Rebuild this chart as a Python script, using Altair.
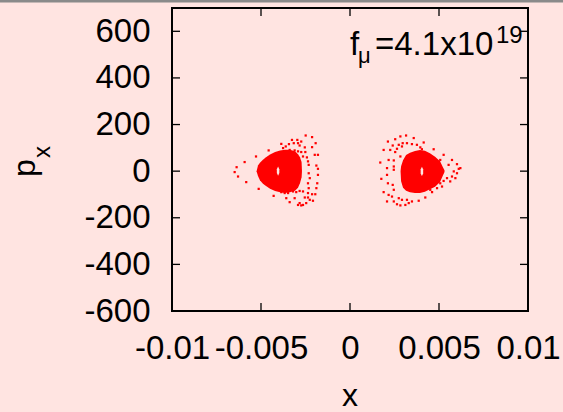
import altair as alt
import pandas as pd

# ---- data ----
x_ticks = [-0.01, -0.005, 0, 0.005, 0.01]
y_ticks = [-600, -400, -200, 0, 200, 400, 600]
x_inner_ticks = [-0.005, 0, 0.005]
y_inner_ticks = [-400, -200, 0, 200, 400, 600]

# dense cores (upper / lower outline)
left_blob_x = [-0.00525, -0.00517, -0.00506, -0.00489, -0.00472, -0.00449, -0.00421, -0.00393,
               -0.00365, -0.00337, -0.00309, -0.00292, -0.00281, -0.00272, -0.00270]
left_blob_top = [0, 24, 36, 49, 60, 71, 82, 89, 92, 92, 85, 73, 60, 39, 4]
left_blob_bot = [0, -21, -39, -54, -64, -75, -85, -91, -94, -91, -84, -71, -52, -26, -4]

right_blob_x = [0.00284, 0.00287, 0.00298, 0.00315, 0.00337, 0.00365, 0.00393, 0.00421,
                0.00449, 0.00478, 0.00506, 0.00522, 0.00531]
right_blob_top = [0, 21, 47, 69, 79, 86, 91, 88, 77, 62, 43, 17, 4]
right_blob_bot = [0, -43, -71, -84, -91, -94, -94, -88, -78, -67, -46, -19, -4]

# small holes at the centres
left_hole_x = [-0.00411, -0.00404, -0.00397]
left_hole_top = [8, 20, 8]
left_hole_bot = [-8, -20, -8]
right_hole_x = [0.00397, 0.00404, 0.00411]
right_hole_top = [8, 19, 8]
right_hole_bot = [-10, -21, -10]

# scattered points of the outer loops
left_px = [-0.00249, -0.00213, -0.00296, -0.00326, -0.00274, -0.00193, -0.00386, -0.00343, -0.00316, -0.00292,
           -0.00361, -0.00376, -0.00283, -0.00254, -0.00213, -0.00339, -0.00311, -0.00292, -0.00274, -0.00251,
           -0.00198, -0.00180, -0.00242, -0.00264, -0.00457, -0.00528, -0.00592, -0.00637, -0.00236, -0.00232,
           -0.00189, -0.00180, -0.00283,
           -0.00648, -0.00629, -0.00583, -0.00513, -0.00429, -0.00232, -0.00180, -0.00226, -0.00184, -0.00236,
           -0.00232, -0.00189, -0.00213, -0.00195, -0.00236, -0.00264, -0.00283, -0.00302, -0.00320, -0.00348,
           -0.00367, -0.00386, -0.00358, -0.00339, -0.00311, -0.00283, -0.00264, -0.00246, -0.00226, -0.00208,
           -0.00236, -0.00254, -0.00292, -0.00274]
left_py = [153, 146, 134, 134, 127, 120, 117, 116, 120, 120, 106, 99, 110, 102, 103, 91, 89, 85, 82, 82,
           70, 70, 59, 63, 89, 63, 39, 17, 42, 27, 24, 10, 16,
           -4, -23, -47, -76, -106, -9, -16, -30, -52, -52, -73, -73, -99, -99, -94, -87, -85, -90, -87, -94,
           -94, -90, -116, -133, -116, -137, -145, -137, -123, -127, -113, -113, -145, -147]

right_px = [0.00315, 0.00283, 0.00358, 0.00254, 0.00213, 0.00240, 0.00274, 0.00296, 0.00320, 0.00348,
            0.00414, 0.00376, 0.00264, 0.00292, 0.00226, 0.00189, 0.00254, 0.00395, 0.00404, 0.00470,
            0.00526, 0.00217, 0.00246, 0.00283, 0.00170, 0.00208, 0.00246, 0.00573, 0.00601, 0.00620,
            0.00554, 0.00507,
            0.00176, 0.00208, 0.00213, 0.00240, 0.00246, 0.00189, 0.00217, 0.00236, 0.00208, 0.00246,
            0.00264, 0.00283, 0.00311, 0.00330, 0.00348, 0.00320, 0.00292, 0.00274, 0.00386, 0.00423,
            0.00461, 0.00451, 0.00489, 0.00517, 0.00507, 0.00526, 0.00545, 0.00563, 0.00573, 0.00583,
            0.00601, 0.00592, 0.00611, 0.00246]
right_py = [153, 149, 142, 137, 127, 110, 113, 120, 120, 116, 123, 113, 96, 106, 91, 91, 82, 102, 94, 94,
            70, 48, 46, 63, 37, 13, 20, 48, 30, 13, 27, 48,
            -33, -16, -52, -59, -80, -90, -102, -109, -130, -130, -142, -147, -145, -137, -130, -123, -123,
            -116, -127, -113, -90, -80, -73, -66, -52, -42, -30, -44, -23, -1, -9, -30, 10, 6]

# ---- build tables ----
def area_df(xv, top, bot, name):
    return pd.DataFrame({"x": xv, "y": top, "y2": bot, "g": name})

cores = pd.concat([area_df(left_blob_x, left_blob_top, left_blob_bot, "L"),
                   area_df(right_blob_x, right_blob_top, right_blob_bot, "R")])
holes = pd.concat([area_df(left_hole_x, left_hole_top, left_hole_bot, "L"),
                   area_df(right_hole_x, right_hole_top, right_hole_bot, "R")])
dots = pd.DataFrame({"x": left_px + right_px, "y": left_py + right_py})

BG = "#ffe4e1"
FONT = "Liberation Sans"
W, H = 356, 303
LFS = 33

xs = alt.Scale(domain=[-0.01, 0.01], nice=False, zero=False)
ys = alt.Scale(domain=[-600, 700], nice=False, zero=False)
xaxis = alt.Axis(values=x_ticks, labelExpr="'' + datum.value", ticks=False, domain=False, grid=False,
                 labelFontSize=LFS, labelFont=FONT, labelColor="black", labelPadding=21,
                 labelOverlap=False, labelFlush=False, title=None)
yaxis = alt.Axis(values=y_ticks, labelExpr="'' + datum.value", ticks=False, domain=False, grid=False,
                 labelFontSize=LFS, labelFont=FONT, labelColor="black", labelPadding=22,
                 labelOverlap=False, labelFlush=False, title=None)
X = alt.X("x:Q", scale=xs, axis=xaxis)
Y = alt.Y("y:Q", scale=ys, axis=yaxis)

core_layer = alt.Chart(cores).mark_area(color="#ff0000", opacity=1).encode(
    x=X, y=Y, y2="y2:Q", detail="g:N")
hole_layer = alt.Chart(holes).mark_area(color=BG, opacity=1).encode(
    x=X, y=Y, y2="y2:Q", detail="g:N")
dot_layer = alt.Chart(dots).mark_square(color="#ff0000", size=5, opacity=1, strokeWidth=0).encode(x=X, y=Y)

xt = pd.DataFrame({"x": x_inner_ticks})
yt = pd.DataFrame({"y": y_inner_ticks})
tick_style = dict(color="black", strokeWidth=1.3)
top_ticks = alt.Chart(xt).mark_rule(**tick_style).encode(x=X, y=alt.value(0), y2=alt.value(8))
bot_ticks = alt.Chart(xt).mark_rule(**tick_style).encode(x=X, y=alt.value(H), y2=alt.value(H - 8))
left_ticks = alt.Chart(yt).mark_rule(**tick_style).encode(y=Y, x=alt.value(0), x2=alt.value(8))
right_ticks = alt.Chart(yt).mark_rule(**tick_style).encode(y=Y, x=alt.value(W), x2=alt.value(W - 8))

one = pd.DataFrame({"k": [0]})
def txt(s, x, y, size, align="left", angle=0):
    return alt.Chart(one).mark_text(text=s, font=FONT, fontSize=size, color="black", align=align,
                                    baseline="alphabetic", angle=angle).encode(
        x=alt.value(x), y=alt.value(y))

labels = [
    txt("f", 178, 47, 33),
    txt("μ", 186, 55, 22),
    txt("=4.1x10", 203, 47, 33),
    txt("19", 324, 35, 24),
    txt("x", 178, 398, 32, align="center"),
    txt("p", -137, 169, 32, angle=270),
    txt("x", -122, 150, 24, angle=270),
]

topbar = alt.Chart(one).mark_rule(color="#8a8a8a", strokeWidth=3).encode(
    x=alt.value(-172), x2=alt.value(391), y=alt.value(-7))

chart = alt.layer(core_layer, hole_layer, dot_layer, top_ticks, bot_ticks, left_ticks, right_ticks,
                  *labels, topbar).properties(
    width=W, height=H,
    padding={"left": 172, "top": 8, "right": 35, "bottom": 101},
    autosize=alt.AutoSizeParams(type="none"),
    background=BG,
).configure_view(stroke="black", strokeWidth=2, fill=None)

chart.save("out.html", embed_options={"renderer": "svg", "actions": False})
